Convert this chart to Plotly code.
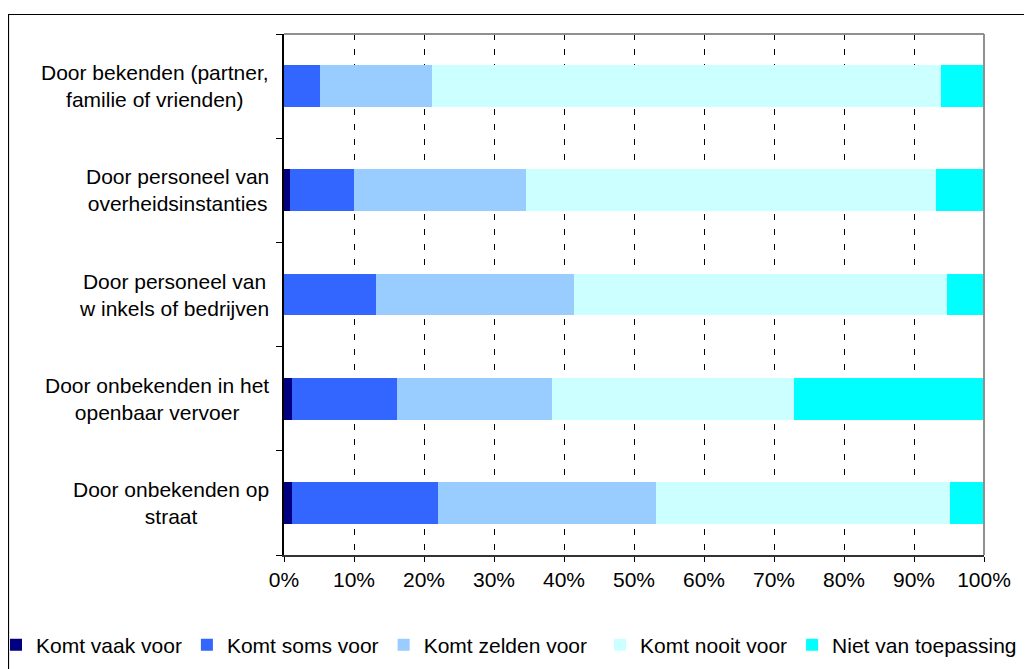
import plotly.graph_objects as go

categories = [
    "Door onbekenden op<br>straat",
    "Door onbekenden in het<br>openbaar vervoer",
    "Door personeel van<br>w inkels of bedrijven",
    "Door personeel van<br>overheidsinstanties",
    "Door bekenden (partner,<br>familie of vrienden)",
]
series_names = ["Komt vaak voor", "Komt soms voor", "Komt zelden voor",
                "Komt nooit voor", "Niet van toepassing"]
vaak = [1.1, 1.1, 0.0, 0.8, 0.0]
soms = [20.9, 15.0, 13.1, 9.2, 5.1]
zelden = [31.1, 22.2, 28.3, 24.6, 16.0]
nooit = [42.0, 34.6, 53.3, 58.5, 72.8]
niet = [4.9, 27.1, 5.3, 6.9, 6.1]
colors = ["#000080", "#3366FF", "#99CCFF", "#CCFFFF", "#00FFFF"]
x_ticks = [0, 10, 20, 30, 40, 50, 60, 70, 80, 90, 100]
x_tick_labels = [f"{v}%" for v in x_ticks]

FONT = "Liberation Sans, Arial, sans-serif"
FS = 21
W, H = 1032, 669
OFF = 8  # page body margin
L, R, T, B = 284 - OFF, 984 - OFF, 34 - OFF, 555 - OFF
pw, ph = R - L, B - T

def px2paper_x(px):
    return (px - OFF - L) / pw
def px2paper_y(py):
    return (B - (py - OFF)) / ph

legend_ids = ["legend", "legend", "legend", "legend2", "legend2"]

ypos = list(range(len(categories)))
fig = go.Figure()
for name, vals, col, lg in zip(series_names, [vaak, soms, zelden, nooit, niet], colors, legend_ids):
    fig.add_trace(go.Bar(
        y=ypos, x=vals, name=name, orientation="h",
        marker=dict(color=col, line=dict(width=0)), width=0.4,
        hoverinfo="x+name", legend=lg,
    ))

shapes = [
    dict(type="rect", xref="paper", yref="paper",
         x0=px2paper_x(8.5), x1=px2paper_x(1060), y0=px2paper_y(700), y1=px2paper_y(14.5),
         line=dict(color="black", width=1.2), fillcolor="rgba(0,0,0,0)", layer="below"),
    dict(type="line", xref="paper", yref="paper", x0=0, x1=1, y0=1, y1=1,
         line=dict(color="#909090", width=2)),
    dict(type="line", xref="paper", yref="paper", x0=1, x1=1, y0=0, y1=1,
         line=dict(color="#909090", width=2)),
]

annotations = []
for yv, lab in zip(ypos, categories):
    annotations.append(dict(
        x=0, xref="paper", y=yv, yref="y", text=lab, showarrow=False,
        xanchor="right", yanchor="middle", align="center", xshift=-13,
        font=dict(family=FONT, size=FS, color="black"),
    ))

leg_common = dict(
    orientation="h", yref="paper", yanchor="middle",
    y=px2paper_y(645),
    font=dict(family=FONT, size=FS, color="black"),
    itemwidth=30, tracegroupgap=0, traceorder="normal",
    bgcolor="rgba(0,0,0,0)", borderwidth=0,
)

fig.update_layout(
    width=W, height=H,
    margin=dict(l=L, r=W - R, t=T, b=H - B, pad=0, autoexpand=False),
    paper_bgcolor="white", plot_bgcolor="white",
    barmode="stack", bargap=0.6,
    font=dict(family=FONT, size=FS, color="black"),
    shapes=shapes, annotations=annotations,
    showlegend=True,
    legend=dict(xref="paper", x=px2paper_x(-4), xanchor="left", **leg_common),
    legend2=dict(xref="paper", x=px2paper_x(600), xanchor="left", **leg_common),
    xaxis=dict(
        range=[0, 100], tickvals=x_ticks, ticktext=x_tick_labels,
        showgrid=True, gridcolor="black", gridwidth=1, griddash="6px,9px",
        showline=True, linecolor="#333333", linewidth=2,
        ticks="outside", ticklen=5, tickcolor="black", tickwidth=1,
        zeroline=False, tickfont=dict(family=FONT, size=FS, color="black"),
    ),
    yaxis=dict(
        range=[-0.5, 4.5], tickvals=[-0.5, 0.5, 1.5, 2.5, 3.5, 4.5],
        showticklabels=False, showgrid=False, zeroline=False,
        showline=True, linecolor="black", linewidth=2,
        ticks="outside", ticklen=6, tickcolor="black", tickwidth=1,
    ),
)

fig.write_html("out.html")
